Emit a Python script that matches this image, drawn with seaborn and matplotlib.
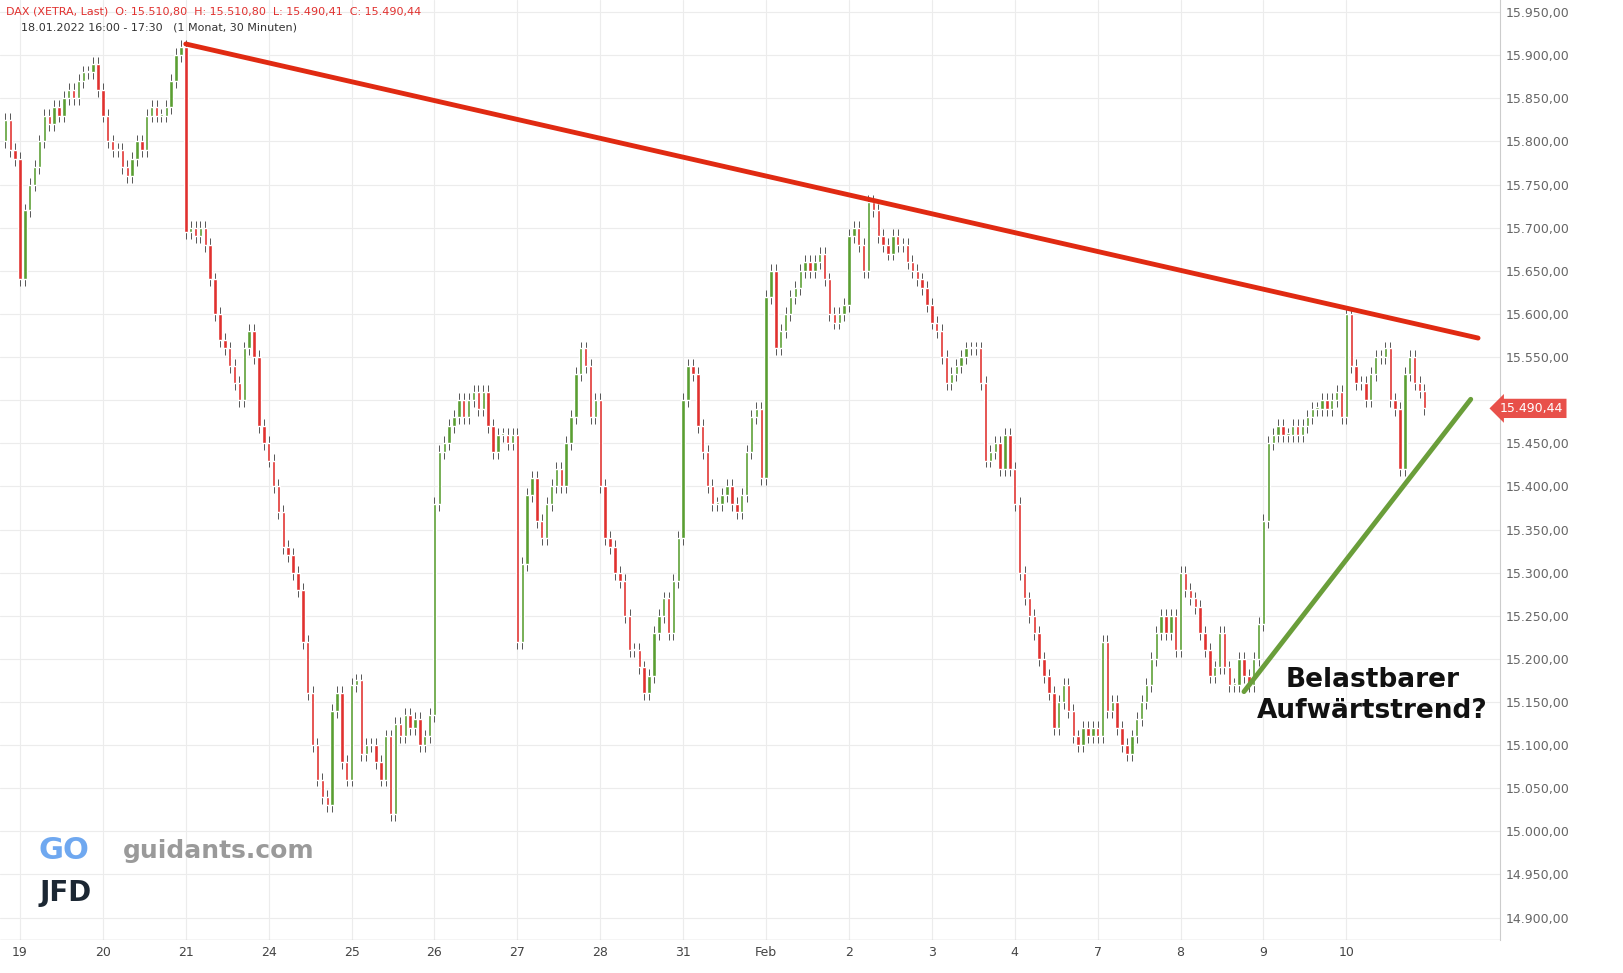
import numpy as np
import pandas as pd
import matplotlib.pyplot as plt
import seaborn as sns

sns.set_style("white")
plt.rcParams['font.family'] = ['DejaVu Sans']

# 30-minute closes (day by day, 17 bars per day)
jan18 = [15825, 15790, 15780]
closes_by_day = {
    "19": [15640, 15720, 15750, 15770, 15800, 15830, 15820, 15840, 15830, 15850, 15860, 15850, 15870, 15880, 15880, 15890, 15860],
    "20": [15830, 15800, 15790, 15790, 15770, 15760, 15780, 15800, 15790, 15830, 15840, 15830, 15830, 15840, 15870, 15900, 15910],
    "21": [15695, 15700, 15690, 15700, 15680, 15640, 15600, 15570, 15560, 15540, 15520, 15500, 15560, 15580, 15550, 15470, 15450],
    "24": [15430, 15400, 15370, 15330, 15320, 15300, 15280, 15220, 15160, 15100, 15060, 15040, 15030, 15140, 15160, 15080, 15060],
    "25": [15170, 15175, 15090, 15100, 15100, 15080, 15060, 15110, 15020, 15125, 15110, 15135, 15120, 15130, 15100, 15110, 15135],
    "26": [15380, 15440, 15450, 15470, 15480, 15500, 15480, 15500, 15510, 15490, 15510, 15470, 15440, 15460, 15460, 15450, 15460],
    "27": [15220, 15310, 15390, 15410, 15360, 15340, 15380, 15400, 15420, 15400, 15450, 15480, 15530, 15560, 15540, 15480, 15500],
    "28": [15400, 15340, 15330, 15300, 15290, 15250, 15210, 15210, 15190, 15160, 15180, 15230, 15250, 15270, 15230, 15290, 15340],
    "31": [15500, 15540, 15530, 15470, 15440, 15400, 15380, 15380, 15390, 15400, 15380, 15370, 15390, 15440, 15480, 15490, 15410],
    "Feb": [15620, 15650, 15560, 15580, 15600, 15620, 15630, 15650, 15660, 15650, 15660, 15670, 15640, 15600, 15590, 15600, 15610],
    "2": [15690, 15700, 15680, 15650, 15730, 15720, 15690, 15680, 15670, 15690, 15680, 15680, 15660, 15650, 15640, 15630, 15610],
    "3": [15590, 15580, 15550, 15520, 15530, 15540, 15550, 15560, 15560, 15560, 15520, 15430, 15440, 15450, 15420, 15460, 15420],
    "4": [15380, 15300, 15270, 15250, 15230, 15200, 15180, 15160, 15120, 15150, 15170, 15140, 15110, 15100, 15120, 15110, 15120],
    "7": [15110, 15220, 15140, 15150, 15120, 15100, 15090, 15110, 15130, 15150, 15170, 15200, 15230, 15250, 15230, 15250, 15210],
    "8": [15300, 15280, 15270, 15260, 15230, 15210, 15180, 15190, 15230, 15190, 15170, 15170, 15200, 15180, 15170, 15200, 15240],
    "9": [15360, 15450, 15460, 15470, 15460, 15460, 15470, 15460, 15470, 15480, 15490, 15490, 15500, 15490, 15500, 15510, 15480],
    "10": [15600, 15540, 15520, 15520, 15500, 15530, 15550, 15550, 15560, 15500, 15490, 15420, 15530, 15550, 15520, 15511, 15490.44],
}
day_labels = list(closes_by_day.keys())
y_ticks = list(range(14900, 15951, 50))

red_line = ([34, 299], [15913, 15572])
green_line = ([251, 297.5], [15162, 15501])

closes = jan18 + [c for d in day_labels for c in closes_by_day[d]]
idx = np.arange(len(closes)) - len(jan18)
opens = [15800] + closes[:-1]
df = pd.DataFrame({"i": idx, "open": opens, "close": closes})
df["up"] = df["close"] >= df["open"]
df["high"] = df[["open", "close"]].max(axis=1) + 8
df["low"] = df[["open", "close"]].min(axis=1) - 8

fig = plt.figure(figsize=(16.23, 9.73), dpi=100)
ax = fig.add_axes([0, 1 - 940 / 973, 1500 / 1623, 940 / 973])

green, red = "#5a9e32", "#e0312f"
for _, r in df.iterrows():
    col = green if r["up"] else red
    ax.vlines(r["i"], r["low"], r["high"], color="#555555", lw=0.7, zorder=2)
    lo = min(r["open"], r["close"])
    ax.bar(r["i"], max(abs(r["close"] - r["open"]), 1.5), bottom=lo, width=0.7,
           color=col, zorder=3)

sns.lineplot(x=red_line[0], y=red_line[1], ax=ax, color="#e02a12", lw=3.5, zorder=4)
sns.lineplot(x=green_line[0], y=green_line[1], ax=ax, color="#6a9e3a", lw=3.5, zorder=4)

ax.set_xlim(-4.1, 303.5)
ax.set_ylim(14874, 15964)
ax.set_xticks([17 * k for k in range(len(day_labels))])
ax.set_xticklabels(day_labels, fontsize=9, color="#444444")
ax.set_yticks(y_ticks)
ax.yaxis.tick_right()
# the 15.500 label sits under the last-price marker
ax.set_yticklabels(["" if v == 15500 else
                    f"{v:,.2f}".replace(",", "X").replace(".", ",").replace("X", ".") for v in y_ticks],
                   fontsize=9, color="#666666")
ax.tick_params(axis="both", length=0, pad=4)
ax.grid(True, color="#ececec", lw=0.8)
for s in ["top", "left", "bottom"]:
    ax.spines[s].set_visible(False)
ax.spines["right"].set_color("#cccccc")
ax.axhline(14874, color="#cccccc", lw=1)

ax.text(1.0, 15490.44, "15.490,44", transform=ax.get_yaxis_transform(), ha="left", va="center",
        fontsize=9, color="white", zorder=6,
        bbox=dict(boxstyle="larrow,pad=0.25", fc="#e8504a", ec="none"))

ax.text(0.004, 0.993, "DAX (XETRA, Last)  O: 15.510,80  H: 15.510,80  L: 15.490,41  C: 15.490,44",
        transform=ax.transAxes, fontsize=8, color="#e0312f", va="top")
ax.text(0.014, 0.976, "18.01.2022 16:00 - 17:30   (1 Monat, 30 Minuten)",
        transform=ax.transAxes, fontsize=8, color="#333333", va="top")

ax.text(0.915, 0.26, "Belastbarer\nAufwärtstrend?", transform=ax.transAxes, ha="center",
        va="center", fontsize=19, fontweight="bold", color="#111111", linespacing=1.25)

ax.text(0.082, 0.095, "guidants.com", transform=ax.transAxes, fontsize=18, color="#9a9a9a",
        va="center", fontweight="bold")
ax.text(0.026, 0.095, "GO", transform=ax.transAxes, fontsize=22, color="#6fa8f0",
        va="center", fontweight="bold")
ax.text(0.026, 0.05, "JFD", transform=ax.transAxes, fontsize=20, color="#1c2733",
        va="center", fontweight="bold")

fig.savefig("out.png", dpi=100)
